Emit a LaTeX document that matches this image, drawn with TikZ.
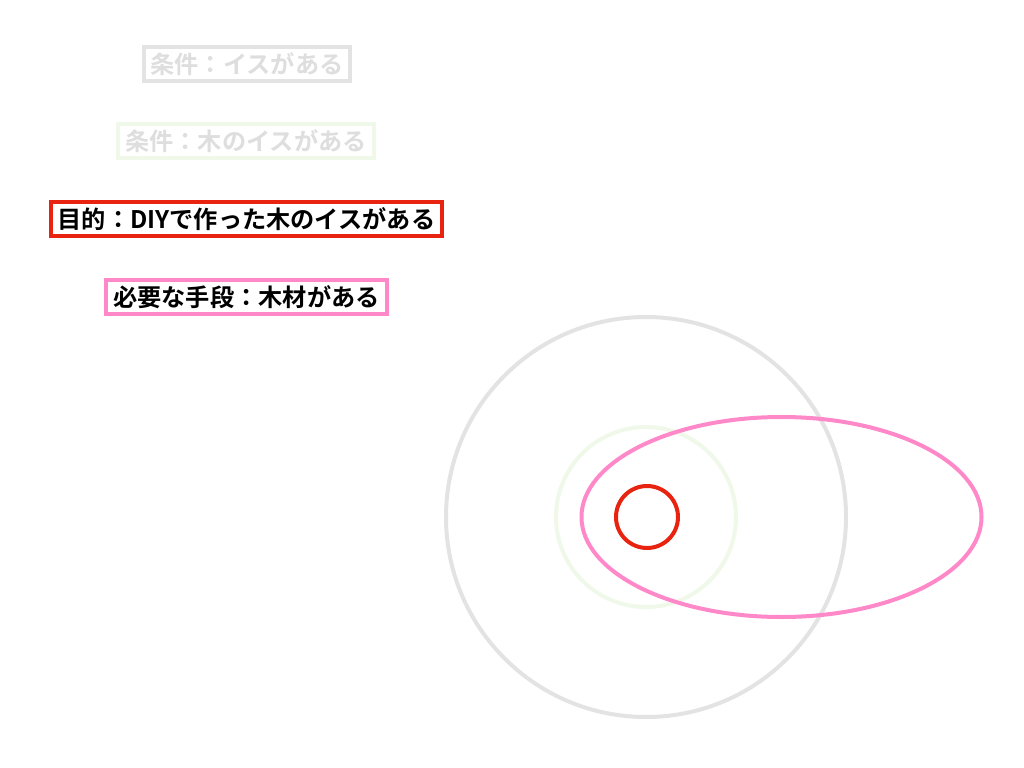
\documentclass[tikz,border=0pt]{standalone}
\usepackage{fontspec}
\newfontfamily\jpfont{Noto Sans CJK JP}[BoldFont={Noto Sans CJK JP Bold}]
\usetikzlibrary{positioning}
\definecolor{condgray}{HTML}{E3E3E3}
\definecolor{condgreen}{HTML}{EFF8E9}
\definecolor{goalred}{HTML}{E8230F}
\definecolor{meanpink}{HTML}{FF88C8}
\definecolor{fadetext}{HTML}{DEDEDE}
\tikzset{
  tag/.style={draw, line width=4bp, inner xsep=7bp, inner ysep=1bp, minimum height=34bp,
    font=\jpfont\bfseries\fontsize{24.3}{26}\selectfont},
  ring/.style={line width=4bp},
}
\begin{document}
\begin{tikzpicture}[x=1bp, y=-1bp]
  \useasboundingbox (0,0) rectangle (1024,768);
  % labels
  \node[tag, draw=condgray, text=fadetext] (chair) at (247,64) {条件：イスがある};
  \node[tag, draw=condgreen, text=fadetext] (wood) at (246,141) {条件：木のイスがある};
  \node[tag, draw=goalred, text=black] (goal) at (246.5,219) {目的：DIYで作った木のイスがある};
  \node[tag, draw=meanpink, text=black] (means) at (246.5,297) {必要な手段：木材がある};
  % sets
  \draw[ring, condgray] (646,517) circle (200);
  \draw[ring, condgreen] (646,517) circle (90);
  \draw[ring, meanpink] (781.5,517) ellipse (200 and 100);
  \draw[ring, goalred] (647,517) circle (31);
\end{tikzpicture}
\end{document}
